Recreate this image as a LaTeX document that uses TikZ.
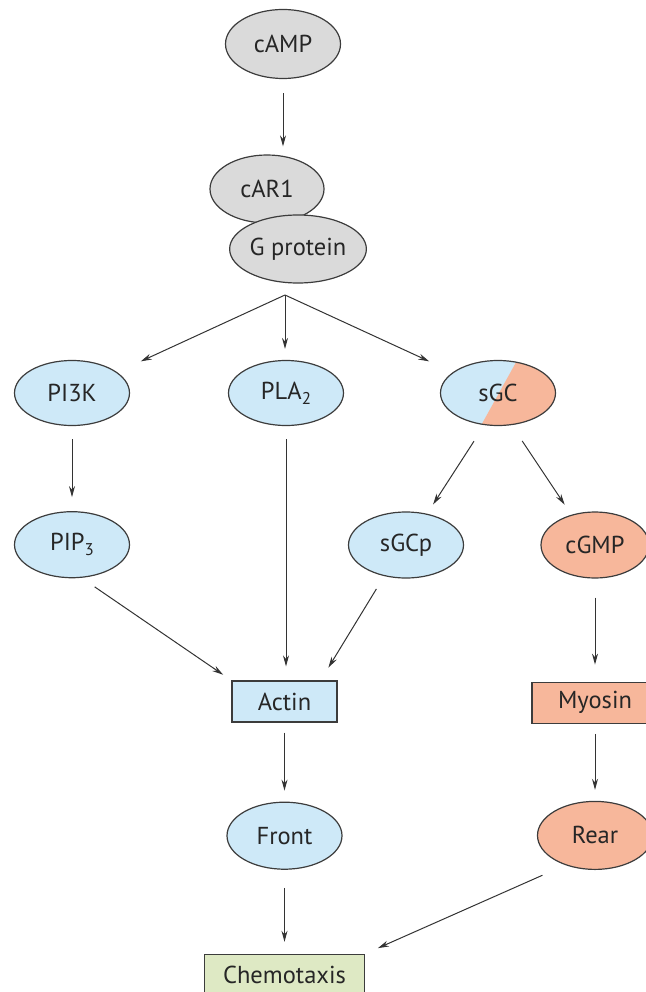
\documentclass[tikz,border=0pt]{standalone}
\usepackage{fontspec}
\setmainfont{PT Sans}
\usetikzlibrary{shapes,arrows.meta,positioning}

\definecolor{greyfill}{RGB}{218,218,218}
\definecolor{frontblue}{RGB}{206,233,248}
\definecolor{rearred}{RGB}{247,183,155}
\definecolor{chemgreen}{RGB}{222,233,196}
\definecolor{edgegrey}{RGB}{60,60,60}
\newcommand{\molsub}[1]{\raisebox{-5pt}{\fontsize{17}{17}\selectfont #1}}

\begin{document}
\begin{tikzpicture}[
        x=1pt, y=-1pt,
        every node/.style={font=\fontsize{24.5}{28}\selectfont, text=black!85},
        mol/.style={draw=edgegrey, line width=1.2pt, ellipse, minimum width=115pt, minimum height=65pt, inner sep=0pt},
        box/.style={draw=edgegrey, line width=1.2pt, rectangle, minimum height=41pt, inner sep=0pt},
        link/.style={->, draw=black!80, line width=1pt},
        >={Stealth[length=11pt, width=6pt]}
    ]
    \useasboundingbox (0,0) rectangle (645,992);

    \node[mol, fill=greyfill, minimum height=69pt] (camp) at (283,44) {cAMP};
    \node[mol, fill=greyfill, minimum width=114pt, minimum height=68pt] (car) at (267,189) {cAR1};
    \node[mol, fill=greyfill, minimum width=134pt, minimum height=68pt] (gpr) at (298,249) {G protein};
    \coordinate (br) at (285,295);

    \node[mol, fill=frontblue] (pik) at (72,393) {PI3K};
    \node[mol, fill=frontblue] (pla) at (286,393) {PLA\molsub{2}};
    \node[mol, fill=frontblue, path picture={
        \fill[rearred] ([xshift=19pt]path picture bounding box.north) -- (path picture bounding box.north east)
            -- (path picture bounding box.south east) -- ([xshift=-17pt]path picture bounding box.south) -- cycle;
    }] (sgc) at (498,393) {sGC};

    \node[mol, fill=frontblue, minimum height=66pt, below=85pt of pik] (pip) {PIP\molsub{3}};
    \node[mol, fill=frontblue, minimum height=66pt] (sgcp) at (406,545) {sGCp};
    \node[mol, fill=rearred, minimum width=108pt, minimum height=66pt] (cgmp) at (595,545) {cGMP};

    \node[box, fill=frontblue, minimum width=105pt] (act) at (284.5,701.5) {Actin};
    \node[box, fill=rearred, minimum width=126pt, below=103pt of cgmp] (myo) {Myosin};
    \node[mol, fill=frontblue, minimum height=67pt, below=79pt of act] (fro) {Front};
    \node[mol, fill=rearred, minimum height=68pt, below=77pt of myo] (rea) {Rear};
    \node[box, fill=chemgreen, minimum width=160pt, below=84pt of fro] (chem) {Chemotaxis};

    \draw[link, shorten <=14pt, shorten >=8pt] (camp.south) -- (camp.south |- car.north);
    \draw[link, shorten >=26pt] (br) -- (pik);
    \draw[link, shorten >=11pt] (br) -- (br |- pla.north);
    \draw[link, shorten >=26pt] (br) -- (sgc);
    \draw[link, shorten <=13pt, shorten >=14pt] (pik) -- (pip);
    \draw[link, shorten <=13pt, shorten >=14pt] (pla) -- (pla |- act.north);
    \draw[link, shorten <=19pt, shorten >=11pt] (sgc.-113) -- (sgcp.56);
    \draw[link, shorten <=19pt, shorten >=12pt] (sgc.-67) -- (cgmp.128);
    \draw[link, shorten <=16pt, shorten >=10pt] (pip.-74) -- (act.north west);
    \draw[link, shorten <=15pt, shorten >=15pt] (sgcp.-125) -- ([xshift=-17pt]act.north east);
    \draw[link, shorten <=19pt, shorten >=17pt] (cgmp) -- (myo);
    \draw[link, shorten <=10pt, shorten >=11pt] (act) -- (fro);
    \draw[link, shorten <=10pt, shorten >=11pt] (myo) -- (rea);
    \draw[link, shorten <=18pt, shorten >=12pt] (fro) -- (chem);
    \draw[link, shorten <=25pt, shorten >=14pt] (rea.-135) -- (chem.north east);
\end{tikzpicture}
\end{document}
